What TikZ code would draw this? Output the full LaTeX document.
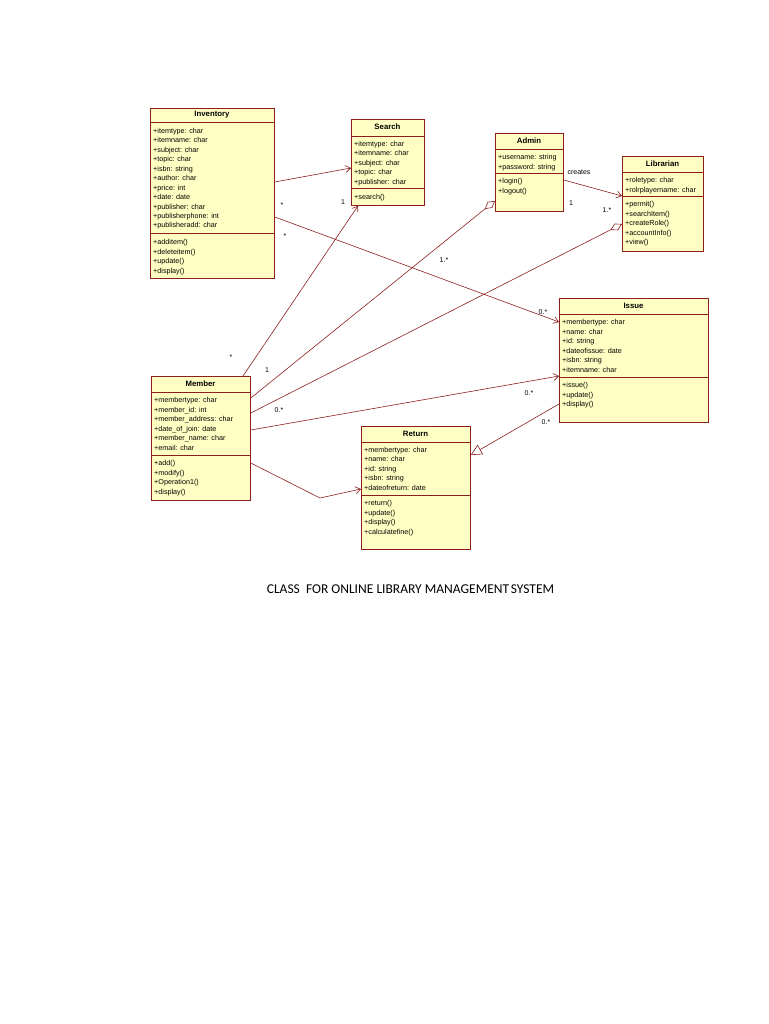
\documentclass[tikz,border=0pt]{standalone}
\usepackage{fontspec}
\setmainfont{Liberation Sans}
\newfontfamily\captionfont{Carlito}
\usetikzlibrary{arrows.meta,calc}
\definecolor{umlfill}{RGB}{255,255,196}
\definecolor{umlline}{RGB}{140,30,30}
\begin{document}
\begin{tikzpicture}[x=1pt,y=-1pt,
  classbox/.style={draw=umlline,fill=umlfill,line width=0.8pt,inner sep=0pt,anchor=north west},
  ctitle/.style={font=\fontsize{7.8}{9}\selectfont\bfseries,anchor=center,inner sep=0pt},
  members/.style={font=\fontsize{7.2}{9.45}\selectfont,align=left,anchor=north west,inner sep=0pt},
  sep/.style={draw=umlline,line width=0.8pt},
  conn/.style={draw=umlline,line width=0.6pt},
  assoc/.style={conn,-{Straight Barb[length=5pt,width=7pt]}},
  aggr/.style={conn,{Diamond[open,length=13pt,width=7.5pt]}-},
  gen/.style={conn,{Triangle[open,length=11pt,width=11pt]}-},
  mult/.style={font=\fontsize{7}{8}\selectfont,inner sep=0pt,anchor=center}]
\useasboundingbox (0,0) rectangle (768,1024);
% ---------- Inventory
\node[classbox,minimum width=124pt,minimum height=170pt] (inv) at (150,108) {};
\node[ctitle] (invt) at (212,115) {Inventory};
\draw[sep] (150,122) -- (274,122);
\draw[sep] (150,233) -- (274,233);
\node[members] (inva) at (153,128) {+itemtype: char\\+itemname: char\\+subject: char\\+topic: char\\+isbn: string\\+author: char\\+price: int\\+date: date\\+publisher: char\\+publisherphone: int\\+publisheradd: char};
\node[members] (invm) at (153,239.5) {+additem()\\+deleteitem()\\+update()\\+display()};
% ---------- Search
\node[classbox,minimum width=73pt,minimum height=86pt] (sea) at (351,119) {};
\node[ctitle] (seat) at (387.5,127) {Search};
\draw[sep] (351,136) -- (424,136);
\draw[sep] (351,188) -- (424,188);
\node[members] (seaa) at (354,141) {+itemtype: char\\+itemname: char\\+subject: char\\+topic: char\\+publisher: char};
\node[members] (seam) at (354,194) {+search()};
% ---------- Admin
\node[classbox,minimum width=68pt,minimum height=78pt] (adm) at (495,133) {};
\node[ctitle] (admt) at (529,141) {Admin};
\draw[sep] (495,149) -- (563,149);
\draw[sep] (495,173) -- (563,173);
\node[members] (adma) at (498,154.5) {+username: string\\+password: string};
\node[members] (admm) at (498,178.5) {+login()\\+logout()};
% ---------- Librarian
\node[classbox,minimum width=81pt,minimum height=95pt] (lib) at (622,156) {};
\node[ctitle] (libt) at (662.5,164) {Librarian};
\draw[sep] (622,172) -- (703,172);
\draw[sep] (622,196) -- (703,196);
\node[members] (liba) at (625,177.5) {+roletype: char\\+rolrplayername: char};
\node[members] (libm) at (625,201.5) {+permit()\\+searchItem()\\+createRole()\\+accountInfo()\\+view()};
% ---------- Issue
\node[classbox,minimum width=149pt,minimum height=124pt] (iss) at (559,298) {};
\node[ctitle] (isst) at (633.5,306) {Issue};
\draw[sep] (559,314) -- (708,314);
\draw[sep] (559,377) -- (708,377);
\node[members] (issa) at (562,319.5) {+membertype: char\\+name: char\\+id: string\\+dateofissue: date\\+isbn: string\\+itemname: char};
\node[members] (issm) at (562,382.5) {+issue()\\+update()\\+display()};
% ---------- Member
\node[classbox,minimum width=99pt,minimum height=124pt] (mem) at (151,376) {};
\node[ctitle] (memt) at (200.5,384) {Member};
\draw[sep] (151,392) -- (250,392);
\draw[sep] (151,455) -- (250,455);
\node[members] (mema) at (154,397.5) {+membertype: char\\+member\_id: int\\+member\_address: char\\+date\_of\_join: date\\+member\_name: char\\+email: char};
\node[members] (memm) at (154,460.5) {+add()\\+modify()\\+Operation1()\\+display()};
% ---------- Return
\node[classbox,minimum width=109pt,minimum height=123pt] (ret) at (361,426) {};
\node[ctitle] (rett) at (415.5,434) {Return};
\draw[sep] (361,442) -- (470,442);
\draw[sep] (361,495) -- (470,495);
\node[members] (reta) at (364,447) {+membertype: char\\+name: char\\+id: string\\+isbn: string\\+dateofreturn: date};
\node[members] (retm) at (364,500.5) {+return()\\+update()\\+display()\\+calculatefine()};
% ---------- connectors
\draw[assoc] ($(inv.north east)+(0,74)$) -- ($(sea.north west)+(0,49)$);
\draw[assoc] ($(inv.north east)+(0,109)$) -- ($(iss.north west)+(0,24)$);
\draw[assoc] ($(mem.north west)+(92,0)$) -- ($(sea.south west)+(7,0)$);
\draw[aggr] ($(adm.south west)+(0,-11)$) -- ($(mem.north east)+(0,22)$);
\draw[aggr] ($(lib.north west)+(0,68)$) -- ($(mem.north east)+(0,37)$);
\draw[assoc] ($(mem.north east)+(0,54)$) -- ($(iss.north west)+(0,78)$);
\coordinate (bend) at (320,498);
\draw[assoc] ($(mem.north east)+(0,87)$) -- (bend) -- ($(ret.north west)+(0,63)$);
\draw[gen] ($(ret.north east)+(0,29)$) -- ($(iss.north west)+(0,106)$);
\draw[assoc] ($(adm.north east)+(0,47)$) -- ($(lib.north west)+(0,40)$);
% ---------- multiplicities
\node[mult] (m1) at (282,205) {*};
\node[mult] (m2) at (285,236) {*};
\node[mult] (m3) at (343,202) {1};
\node[mult] (m4) at (231,357) {*};
\node[mult] (m5) at (267,370) {1};
\node[mult] (m6) at (444,260) {1.*};
\node[mult] (m7) at (279,410) {0.*};
\node[mult] (m8) at (543,312) {0.*};
\node[mult] (m9) at (529,393) {0.*};
\node[mult] (m10) at (546,422) {0.*};
\node[mult] (m11) at (579,172) {creates};
\node[mult] (m12) at (571,203) {1};
\node[mult] (m13) at (607,210) {1.*};
% ---------- caption
\node[font=\captionfont\fontsize{13.5}{15}\selectfont,inner sep=0pt] (cap) at (410.5,589) {CLASS\ \ FOR ONLINE LIBRARY MANAGEMENT\kern0.12em SYSTEM};
\end{tikzpicture}
\end{document}
